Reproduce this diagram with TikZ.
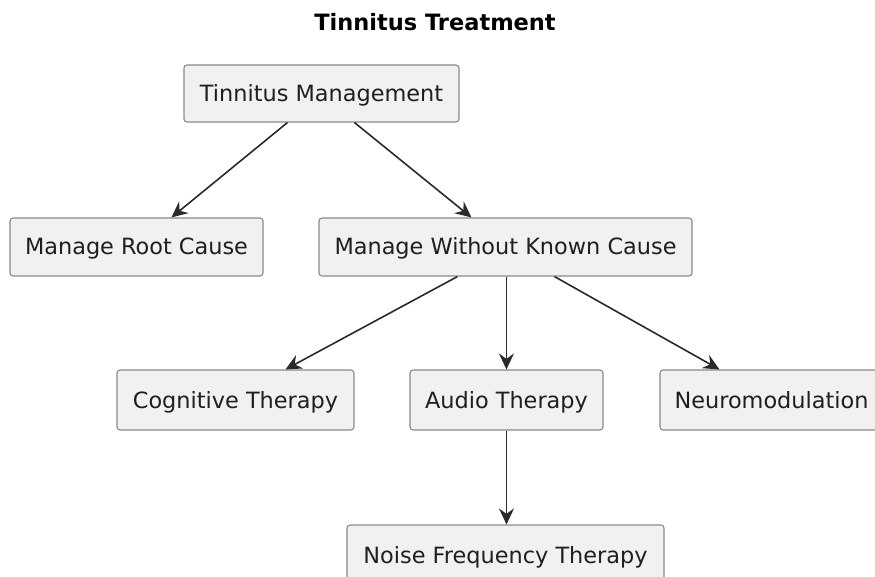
\documentclass[tikz,border=0pt]{standalone}
\usepackage{fontspec}
\setmainfont{DejaVu Sans}
\usetikzlibrary{arrows.meta,calc}
\definecolor{boxfill}{HTML}{F1F1F1}
\definecolor{boxline}{HTML}{8A8A8A}
\definecolor{arrcol}{HTML}{2A2A2A}
\begin{document}
\begin{tikzpicture}[x=1pt,y=-1pt,
  box/.style={draw=boxline,fill=boxfill,line width=1.1pt,rounded corners=3pt,
    inner sep=0pt,text height=17pt,text depth=1pt,
    font=\fontsize{22.4}{25}\selectfont,text=black!88},
  arr/.style={draw=arrcol,line width=1.6pt,-{Stealth[length=16pt,width=15pt,inset=5.5pt]}}]
\useasboundingbox (0,0) rectangle (875,577);
\node[font=\bfseries\fontsize{22.5}{25}\selectfont] (title) at (435,22) {Tinnitus Treatment};
\node[box,minimum width=275pt,minimum height=57pt] (tm) at (321.5,93.5) {Tinnitus Management};
\node[box,minimum width=253pt,minimum height=58pt] (mrc) at (136.5,247) {Manage Root Cause};
\node[box,minimum width=373pt,minimum height=58pt] (mwkc) at (505.5,247) {Manage Without Known Cause};
\node[box,minimum width=237pt,minimum height=60pt] (cog) at (235.5,400) {Cognitive Therapy};
\node[box,minimum width=193pt,minimum height=60pt] (aud) at (506.5,400) {Audio Therapy};
\node[box,minimum width=223pt,minimum height=60pt] (neu) at (771.5,400) {Neuromodulation};
\node[box,minimum width=317pt,minimum height=60pt] (noi) at (505.5,555) {Noise Frequency Therapy};
\draw[arr] ($(tm.south west)+(104,0)$) -- ($(mrc.north west)+(162,0)$);
\draw[arr] ($(tm.south west)+(171,0)$) -- ($(mwkc.north west)+(153,0)$);
\draw[arr] ($(mwkc.south west)+(139,0)$) -- ($(cog.north west)+(169,0)$);
\draw[arr] ($(mwkc.south west)+(188,0)$) -- ($(aud.north west)+(97,0)$);
\draw[arr] ($(mwkc.south west)+(236,0)$) -- ($(neu.north west)+(60,0)$);
\draw[arr] (aud.south) -- (aud.south |- noi.north);
\end{tikzpicture}
\end{document}
